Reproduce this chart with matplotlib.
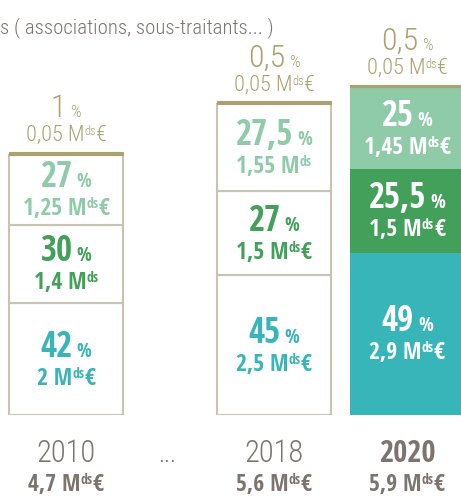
import matplotlib
matplotlib.use('Agg')
import matplotlib.pyplot as plt
from matplotlib import font_manager
from matplotlib.offsetbox import TextArea, HPacker, AnnotationBbox

installed = {f.name for f in font_manager.fontManager.ttflist}


def pick(*names):
    for n in names:
        if n in installed:
            return n
    return 'DejaVu Sans'


BOLD = pick('Open Sans Condensed', 'Roboto Condensed', 'Liberation Sans Narrow')
LIGHT = pick('Roboto Condensed', 'Liberation Sans Narrow')

plt.rcParams['font.family'] = [LIGHT, 'DejaVu Sans']

# données en Mds€, du bas vers le haut de chaque colonne
years = ['2010', '2018', '2020']
totals = ['4,7 Mds€', '5,6 Mds€', '5,9 Mds€']
teal_val = [2.0, 2.5, 2.9]
green_val = [1.4, 1.5, 1.5]
light_val = [1.25, 1.55, 1.45]
other_val = [0.05, 0.05, 0.05]
teal_pct = ['42', '45', '49']
green_pct = ['30', '27', '25,5']
light_pct = ['27', '27,5', '25']
other_pct = ['1', '0,5', '0,5']
teal_txt = ['2 Mds€', '2,5 Mds€', '2,9 Mds€']
green_txt = ['1,4 Mds', '1,5 Mds€', '1,5 Mds€']
light_txt = ['1,25 Mds€', '1,55 Mds', '1,45 Mds€']
other_txt = ['0,05 Mds€', '0,05 Mds€', '0,05 Mds€']

TEAL = '#38b5b8'
GREEN = '#43a05a'
LGREEN = '#8fcaa9'
OLIVE = '#aaa270'
EDGE = '#cac2b2'
GRAY = '#7d746f'

xpos = [0, 2, 3.28]
width = 1.096
filled = [False, False, True]


def put(ax, box, x, y, dy):
    ab = AnnotationBbox(box, (x, y), xybox=(0, dy), xycoords='data', boxcoords='offset points',
                        frameon=False, box_alignment=(0.5, 0), zorder=5, annotation_clip=False)
    ax.add_artist(ab)


def pct_box(num, color, size, small, family, weight):
    props = dict(color=color, family=family, weight=weight)
    return HPacker(children=[TextArea(num, textprops=dict(props, fontsize=size)),
                             TextArea('%', textprops=dict(props, fontsize=small))],
                   align='baseline', pad=0, sep=3)


def money_box(s, color, size, small, family, weight):
    # "M" suivi de "ds" en exposant, puis éventuellement "€"
    props = dict(color=color, family=family, weight=weight)
    pre, post = s.split('Mds')
    kids = [TextArea(pre + 'M', textprops=dict(props, fontsize=size)),
            TextArea('ds', textprops=dict(props, fontsize=small))]
    if post:
        kids.append(TextArea(post, textprops=dict(props, fontsize=size)))
    return HPacker(children=kids, align='top', pad=0, sep=0)


fig = plt.figure(figsize=(4.61, 5.02), dpi=100)
ax = fig.add_axes([0, 86 / 502, 1, 416 / 502])
ax.set_xlim(-0.635, 3.798)
ax.set_ylim(0, 416 / 56)
ax.axis('off')

bottom = [0.0, 0.0, 0.0]
for vals, pcts, txts, col in [(teal_val, teal_pct, teal_txt, TEAL),
                              (green_val, green_pct, green_txt, GREEN),
                              (light_val, light_pct, light_txt, LGREEN)]:
    for j in range(3):
        if filled[j]:
            ax.bar(xpos[j], vals[j], width, bottom=bottom[j], color=col, linewidth=0)
            tc = 'white'
        else:
            ax.bar(xpos[j], vals[j], width, bottom=bottom[j], color='white',
                   edgecolor=EDGE, linewidth=1.5)
            tc = col
        yc = bottom[j] + vals[j] / 2
        put(ax, pct_box(pcts[j], tc, 25, 14, BOLD, 'bold'), xpos[j], yc, -4)
        put(ax, money_box(txts[j], tc, 17, 10, BOLD, 'bold'), xpos[j], yc, -22)
        bottom[j] += vals[j]

ax.bar(xpos, other_val, width, bottom=bottom, color=OLIVE, edgecolor=OLIVE, linewidth=0.8)
for j in range(3):
    top = bottom[j] + other_val[j]
    put(ax, pct_box(other_pct[j], OLIVE, 23, 12, LIGHT, 'light'), xpos[j], top, 21.5)
    put(ax, money_box(other_txt[j], OLIVE, 16, 9, LIGHT, 'light'), xpos[j], top, 4.6)

year_bold = [False, False, True]
for j in range(3):
    ax.annotate(years[j], (xpos[j], 0), xytext=(0, -33), textcoords='offset points',
                ha='center', va='baseline', fontsize=22, color=GRAY, annotation_clip=False,
                family=BOLD if year_bold[j] else LIGHT,
                weight='bold' if year_bold[j] else 'light')
    put(ax, money_box(totals[j], GRAY, 17, 10, BOLD, 'bold'), xpos[j], 0, -58.5)
ax.annotate('...', (0.97, 0), xytext=(0, -33), textcoords='offset points', ha='center',
            va='baseline', fontsize=18, color=GRAY, family=LIGHT, weight='light',
            annotation_clip=False)

fig.text(0.0, 1 - 33 / 502, 's ( associations, sous-traitants... )', ha='left', va='baseline',
         fontsize=15, family=LIGHT, weight='light', color=GRAY)

fig.savefig('out.png', dpi=100)
